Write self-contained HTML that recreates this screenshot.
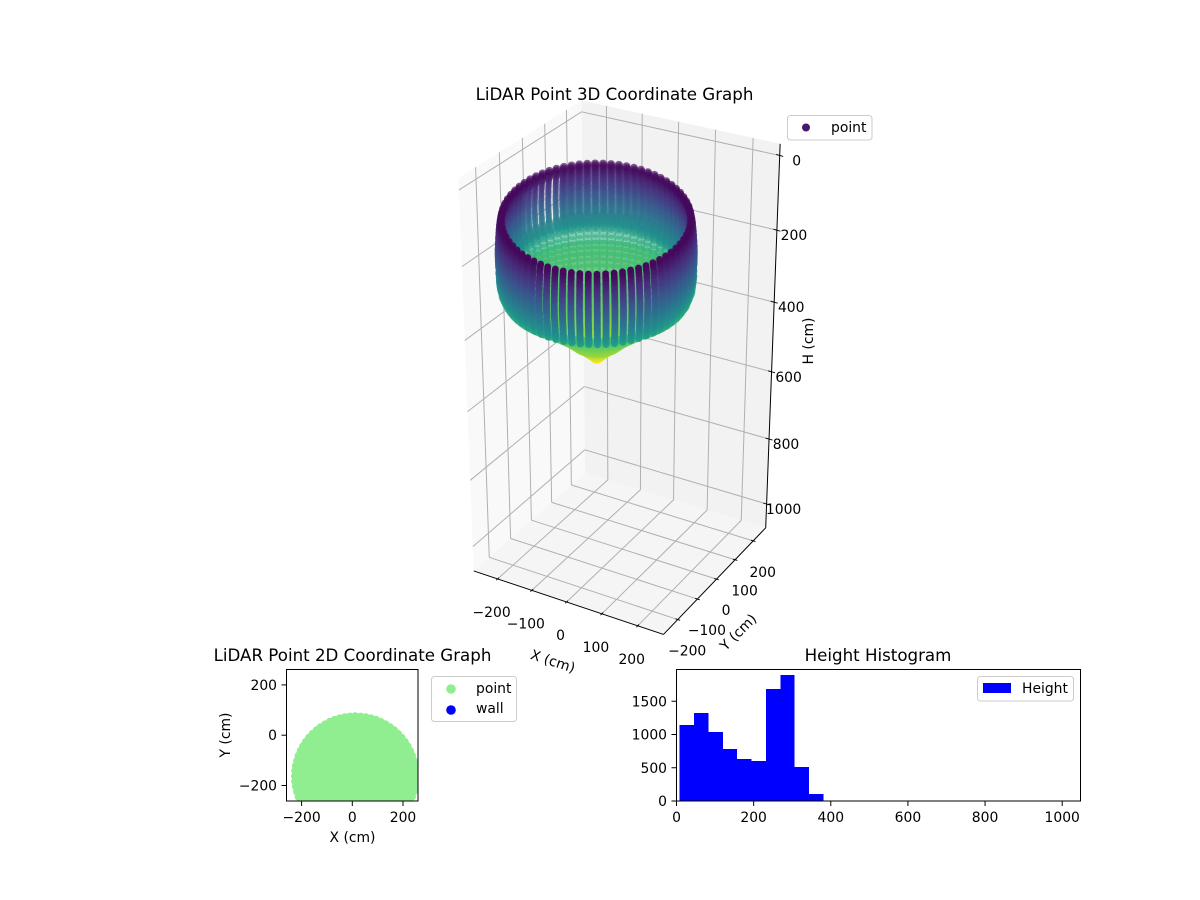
<!DOCTYPE html>
<html>
<head>
<meta charset="utf-8">
<title>LiDAR Point Graphs</title>
<style>
html,body{margin:0;padding:0;background:#fff;}
svg{display:block;font-family:"DejaVu Sans","Liberation Sans",sans-serif;}
text{fill:#000;font-size:13.9px;}
.title{font-size:16.67px;text-anchor:middle;}
</style>
</head>
<body>
<svg id="figure" width="1200" height="900" viewBox="0 0 1200 900" xmlns="http://www.w3.org/2000/svg">
  <defs>
    <clipPath id="clip2d"><rect x="286.5" y="669.5" width="131.5" height="131.5"/></clipPath>
  </defs>
  <g id="panes3d"></g>
  <g id="grid3d"></g>
  <g id="axes3d"></g>
  <g id="points3d"></g>
  <text class="title" x="614.5" y="100">LiDAR Point 3D Coordinate Graph</text>
  <text x="553" y="666" text-anchor="middle" transform="rotate(18 553 661)">X (cm)</text>
  <text x="738" y="637" text-anchor="middle" transform="rotate(-45 738 632)">Y (cm)</text>
  <text x="808" y="346" text-anchor="middle" transform="rotate(-90 808 341)">H (cm)</text>
  <g>
    <rect x="787.5" y="115.5" width="84.5" height="24.5" rx="3" fill="#fff" fill-opacity="0.8" stroke="#ccc"/>
    <circle cx="806" cy="127.5" r="4" fill="#47186b"/>
    <text x="831" y="132">point</text>
  </g>

  <g id="chart2d">
    <g id="points2d" clip-path="url(#clip2d)"></g>
    <rect x="286.5" y="669.5" width="131.5" height="131.5" fill="none" stroke="#000" stroke-width="1"/>
    <g id="ticks2d"></g>
  </g>
  <text class="title" x="352.5" y="661">LiDAR Point 2D Coordinate Graph</text>
  <text x="352.5" y="842" text-anchor="middle">X (cm)</text>
  <text x="225" y="740" text-anchor="middle" transform="rotate(-90 225 735)">Y (cm)</text>
  <g>
    <rect x="431.5" y="676.5" width="85" height="45" rx="3" fill="#fff" stroke="#ccc"/>
    <circle cx="451" cy="689" r="4.8" fill="#90ee90"/>
    <text x="476" y="693">point</text>
    <circle cx="451" cy="710" r="4.8" fill="#0000ff"/>
    <text x="476" y="713">wall</text>
  </g>

  <g id="histogram">
    <g id="bars"></g>
    <rect x="676.5" y="669.5" width="404" height="131.5" fill="none" stroke="#000" stroke-width="1"/>
    <g id="ticksHist"></g>
  </g>
  <text class="title" x="878" y="661">Height Histogram</text>
  <g>
    <rect x="977.5" y="676.5" width="96" height="24.5" rx="3" fill="#fff" fill-opacity="0.8" stroke="#ccc"/>
    <rect x="983" y="683" width="28" height="10" fill="#0000ff"/>
    <text x="1022" y="693">Height</text>
  </g>
</svg>
<script>
// ---------- chart data ----------
const xyTicks3d = [-200, -100, 0, 100, 200];
const zTicks3d = [0, 200, 400, 600, 800, 1000];
const ringHeights = [37,42,47,52,57,62,67,72,77,82,87,92,97,102,107,112,117,122,127,132,137,142,147,152,157,162,167,172,177,182,187,192,197,202,207,212,220,228,235,243,250,258,265,275,285,295,305,315,325,335,345,355,365,375,385,395,405,413,420];
const ringRadii = [231,232,233,234,235,235,236,236,237,237,238,238,238,239,239,239,240,240,240,240,240,240,240,240,239,239,239,238,238,238,237,237,236,236,235,235,233,230,228,225,222,217,210,196,180,165,150,135,120,105,90,77,65,53,42,32,22,14,8];
const colorHeights = [30,120,200,235,300,380,420];
const colorLevels = [0,0.27,0.5,0.68,0.72,0.85,1];
const cloudCenter = [10, -135];
const footprintRadii = [238,222,206,190,174,158,142,126,110,94,78,62,46,30,14,4];
const footprintCenter = [12, -163];
const ticks2d = [-200, 0, 200];
const histEdges = [8,45.3,82.6,119.9,157.2,194.5,231.8,269.1,306.4,343.7,381];
const histCounts = [1143,1323,1038,782,632,601,1684,1895,511,105];
const histXTicks = [0, 200, 400, 600, 800, 1000];
const histYTicks = [0, 500, 1000, 1500];

// ---------- helpers ----------
const NS = 'http://www.w3.org/2000/svg';
function make(tag, parent, attrs, txt) {
  const el = document.createElementNS(NS, tag);
  for (const k in attrs) el.setAttribute(k, attrs[k]);
  if (txt !== undefined) el.textContent = txt;
  parent.appendChild(el);
  return el;
}
function minusLabel(v) { return v < 0 ? '\u2212' + Math.abs(v) : String(v); }
const byId = id => document.getElementById(id);

// ---------- 3D projection (elev 30, azim -60, stretched z) ----------
const Z_STRETCH = 1.9;
function project(xn, yn, zn) {
  const dx = xn - 0.5, dy = yn - 0.5, dz = zn * Z_STRETCH - 0.5;
  const xc = 0.866 * dx + 0.5 * dy;
  const yc = -0.25 * dx + 0.433 * dy + 0.866 * dz;
  const w = 10 - (0.433 * dx - 0.75 * dy + 0.5 * dz);
  const r = 10 / w;
  return { x: 622 + 219 * xc * r, y: 454 - 225 * yc * r, w: w };
}
const xNorm = v => (v + 270.8) / 541.6;
const yNorm = v => (v + 270.8) / 541.6;
const zNorm = h => (1075 - h) / 1105.6;
const pts = list => list.map(p => p.x.toFixed(1) + ',' + p.y.toFixed(1)).join(' ');
function line3d(parent, a, b, color, width) {
  return make('line', parent, {x1:a.x.toFixed(2), y1:a.y.toFixed(2), x2:b.x.toFixed(2), y2:b.y.toFixed(2), stroke:color, 'stroke-width':width});
}

// panes
const panes = byId('panes3d');
const leftPane = make('polygon', panes, {points: pts([project(0,0,0),project(0,1,0),project(0,1,1),project(0,0,1)]), fill:'#f9f9f9'});


const backPane = make('polygon', panes, {points: pts([project(0,1,0),project(1,1,0),project(1,1,1),project(0,1,1)]), fill:'#f2f2f2'});


const floorPane = make('polygon', panes, {points: pts([project(0,0,0),project(1,0,0),project(1,1,0),project(0,1,0)]), fill:'#f5f5f5'});



// grid
const grid = byId('grid3d');
const GRID = '#b0b0b0';
xyTicks3d.forEach(v => {
  const n = xNorm(v);
  const a = line3d(grid, project(n,0,0), project(n,1,0), GRID, 1);
  
  
  const b = line3d(grid, project(n,1,0), project(n,1,1), GRID, 1);
  
  
});
xyTicks3d.forEach(v => {
  const n = yNorm(v);
  const a = line3d(grid, project(0,n,0), project(1,n,0), GRID, 1);
  
  
  const b = line3d(grid, project(0,n,0), project(0,n,1), GRID, 1);
  
  
});
zTicks3d.forEach(h => {
  const n = zNorm(h);
  const a = line3d(grid, project(0,0,n), project(0,1,n), GRID, 1);
  
  
  const b = line3d(grid, project(0,1,n), project(1,1,n), GRID, 1);
  
  
});

// axis lines, ticks, tick labels
const ax3 = byId('axes3d');
const xAxisLine = line3d(ax3, project(0,0,0), project(1,0,0), '#000', 1);


const yAxisLine = line3d(ax3, project(1,0,0), project(1,1,0), '#000', 1);


const zAxisLine = line3d(ax3, project(1,1,0), project(1,1,1), '#000', 1);


xyTicks3d.forEach(v => {
  const n = xNorm(v);
  const t = line3d(ax3, project(n,-0.012,0), project(n,0.012,0), '#000', 0.9);
  
  
  const p = project(n,0,0);
  const l = make('text', ax3, {x:(p.x-6).toFixed(1), y:(p.y+38).toFixed(1), 'text-anchor':'middle'}, minusLabel(v));
  
  
});
xyTicks3d.forEach(v => {
  const n = yNorm(v);
  const t = line3d(ax3, project(0.988,n,0), project(1.012,n,0), '#000', 0.9);
  
  
  const p = project(1,n,0);
  const l = make('text', ax3, {x:(p.x+9.5).toFixed(1), y:(p.y+36).toFixed(1), 'text-anchor':'middle'}, minusLabel(v));
  
  
});
zTicks3d.forEach(h => {
  const p = project(1,1,zNorm(h));
  const t = make('line', ax3, {x1:p.x-3.5, y1:p.y-1, x2:p.x+3.5, y2:p.y+1, stroke:'#000', 'stroke-width':0.9});
  
  
  const l = make('text', ax3, {x:(p.x+17).toFixed(1), y:(p.y+10).toFixed(1), 'text-anchor':'middle'}, minusLabel(h));
  
  
});

// viridis
const viridisStops = ['#440154','#472d7b','#3b528b','#2c728e','#21918c','#28ae80','#5ec962','#addc30','#fde725'];
function viridis(t) {
  t = Math.max(0, Math.min(1, t)) * (viridisStops.length - 1);
  const i = Math.min(Math.floor(t), viridisStops.length - 2), f = t - i;
  const c = s => [1,3,5].map(k => parseInt(s.substr(k,2),16));
  const a = c(viridisStops[i]), b = c(viridisStops[i+1]);
  return 'rgb(' + a.map((v,k) => Math.round(v + (b[k]-v)*f)).join(',') + ')';
}
function colorLevel(h) {
  for (let i = 0; i < colorHeights.length - 1; i++) {
    if (h <= colorHeights[i+1]) {
      const f = (h - colorHeights[i]) / (colorHeights[i+1] - colorHeights[i]);
      return colorLevels[i] + (colorLevels[i+1] - colorLevels[i]) * Math.max(0, f);
    }
  }
  return 1;
}

// 3D point cloud: columns every 5 degrees around each height ring
const AZIMUTH_COLUMNS = 72;
const CLOUD_SCREEN_SQUASH = 0.93;
const CLOUD_SCREEN_SHIFT = 8;
function depthStretch(h) {
  const f = Math.max(0, Math.min(1, (h - 212) / (270 - 212)));
  return 1.3 + (0.85 - 1.3) * f;
}
const cloud = [];
ringHeights.forEach((h, i) => {
  const axisPoint = project(xNorm(cloudCenter[0]), yNorm(cloudCenter[1]), zNorm(h));
  for (let k = 0; k < AZIMUTH_COLUMNS; k++) {
    const a = k * 2 * Math.PI / AZIMUTH_COLUMNS + 0.02;
    const X = cloudCenter[0] + ringRadii[i] * Math.cos(a);
    const Y = cloudCenter[1] + ringRadii[i] * Math.sin(a);
    const p = project(xNorm(X), yNorm(Y), zNorm(h));
    p.x = axisPoint.x + (p.x - axisPoint.x) * CLOUD_SCREEN_SQUASH;
    p.y = axisPoint.y + (p.y - axisPoint.y) * depthStretch(h) + CLOUD_SCREEN_SHIFT;
    const deg = k * 5;
    cloud.push({p: p, h: h, ring: ringRadii[i], streak: deg >= 144 && deg <= 170 && h < 210 && h > 60});
  }
});
cloud.sort((a,b) => b.p.w - a.p.w);
const wMax = cloud[0].p.w, wMin = cloud[cloud.length-1].p.w;
const cloudLayer = byId('points3d');
cloud.forEach(o => {
  const near = (wMax - o.p.w) / (wMax - wMin);
  let radius = o.streak ? 3.2 : 4.3 - 0.9 * near;
  if (o.h > 180 && near < 0.5) radius += 0.8;
  if (o.ring < 45) radius = 1.5 + o.ring * 0.05;
  const alphaFloor = o.h > 230 ? 0.8 : 0.55;
  const c = make('circle', cloudLayer, {
    cx:o.p.x.toFixed(1), cy:o.p.y.toFixed(1), r:radius.toFixed(2),
    fill:viridis(colorLevel(o.h)), 'fill-opacity':(alphaFloor+(1-alphaFloor)*near).toFixed(2)
  });
  
  
});

// 2D chart
const x2d = v => 352.3 + 0.2535 * v;
const y2d = v => 735.2 - 0.2515 * v;
const layer2d = byId('points2d');
footprintRadii.forEach(r => {
  for (let k = 0; k < AZIMUTH_COLUMNS; k++) {
    const a = k * 2 * Math.PI / AZIMUTH_COLUMNS;
    const c = make('circle', layer2d, {
      cx:x2d(footprintCenter[0] + r*Math.cos(a)).toFixed(1),
      cy:y2d(footprintCenter[1] + r*Math.sin(a)).toFixed(1),
      r:4, fill:'#90ee90'});
    
    
  }
});
const t2 = byId('ticks2d');
ticks2d.forEach(v => {
  const tx = make('line', t2, {x1:x2d(v), y1:801, x2:x2d(v), y2:806, stroke:'#000', 'stroke-width':1});
  
  
  const lx = make('text', t2, {x:x2d(v), y:822, 'text-anchor':'middle'}, minusLabel(v));
  
  
  const ty = make('line', t2, {x1:281.5, y1:y2d(v), x2:286.5, y2:y2d(v), stroke:'#000', 'stroke-width':1});
  
  
  const ly = make('text', t2, {x:277, y:y2d(v)+5, 'text-anchor':'end'}, minusLabel(v));
  
  
});

// Histogram
const xH = v => 676.5 + 0.3857 * v;
const yH = v => 801 - 0.0665 * v;
const barLayer = byId('bars');
histCounts.forEach((n, i) => {
  const b = make('rect', barLayer, {
    x:xH(histEdges[i]).toFixed(2), y:yH(n).toFixed(2),
    width:(xH(histEdges[i+1])-xH(histEdges[i])).toFixed(2),
    height:(801-yH(n)).toFixed(2), fill:'#0000ff', 'shape-rendering':'crispEdges'});
  
  
});
const tH = byId('ticksHist');
histXTicks.forEach(v => {
  const t = make('line', tH, {x1:xH(v), y1:801, x2:xH(v), y2:806, stroke:'#000', 'stroke-width':1});
  
  
  const l = make('text', tH, {x:xH(v), y:822, 'text-anchor':'middle'}, String(v));
  
  
});
histYTicks.forEach(v => {
  const t = make('line', tH, {x1:671.5, y1:yH(v), x2:676.5, y2:yH(v), stroke:'#000', 'stroke-width':1});
  
  
  const l = make('text', tH, {x:667, y:yH(v)+5, 'text-anchor':'end'}, String(v));
  
  
});
</script>
</body>
</html>
